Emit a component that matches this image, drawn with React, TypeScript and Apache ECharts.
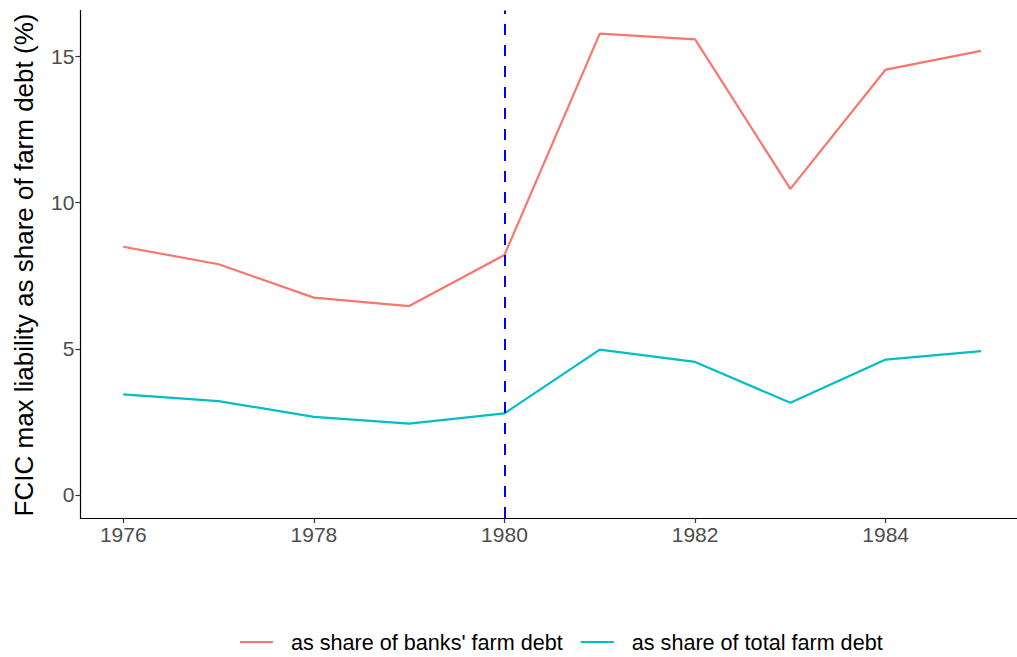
import React, { useEffect, useRef } from "react";
import * as echarts from "echarts";

const years = [1976, 1977, 1978, 1979, 1980, 1981, 1982, 1983, 1984, 1985];
const banksShare = [8.49, 7.89, 6.75, 6.46, 8.21, 15.78, 15.58, 10.47, 14.55, 15.19];
const totalShare = [3.44, 3.21, 2.67, 2.44, 2.79, 4.97, 4.55, 3.15, 4.63, 4.92];
const xTicks = [1976, 1978, 1980, 1982, 1984];
const yTicks = [0, 5, 10, 15];
const seriesNames = ["as share of banks' farm debt", "as share of total farm debt"];
const markYear = 1980;
const yTitle = "FCIC max liability as share of farm debt (%)";

export default function App() {
  const ref = useRef<HTMLDivElement>(null);
  useEffect(() => {
    if (!ref.current) return;
    const chart = echarts.init(ref.current, undefined, { renderer: "svg" });
    const font = "Liberation Sans, Arial, Helvetica, sans-serif";
    const toPairs = (vals: number[]) => years.map((y, i) => [y, vals[i]]);
    chart.setOption({
      animation: false,
      backgroundColor: "#ffffff",
      textStyle: { fontFamily: font },
      grid: { left: 80.4, top: 10.5, width: 936.6, height: 507.5, containLabel: false },
      xAxis: {
        type: "value",
        min: 1975.55,
        max: 1985.378,
        axisLine: { show: true, onZero: false, lineStyle: { color: "#000000", width: 1.2 } },
        axisTick: { show: true, customValues: xTicks, length: 5, lineStyle: { color: "#333333", width: 1.2 } },
        axisLabel: {
          customValues: xTicks,
          color: "#4d4d4d",
          fontSize: 21,
          margin: 6,
          fontFamily: font,
          formatter: (v: number) => String(v),
        },
        splitLine: { show: false },
      },
      yAxis: {
        type: "value",
        min: -0.789,
        max: 16.57,
        axisLine: { show: true, onZero: false, lineStyle: { color: "#000000", width: 1.2 } },
        axisTick: { show: true, customValues: yTicks, length: 5, lineStyle: { color: "#333333", width: 1.2 } },
        axisLabel: { customValues: yTicks, color: "#4d4d4d", fontSize: 21, margin: 6, fontFamily: font },
        splitLine: { show: false },
      },
      legend: {
        left: 240,
        top: 630,
        padding: 0,
        itemWidth: 33,
        itemHeight: 14,
        itemGap: 18,
        data: seriesNames.map((n) => ({ name: n, icon: "path://M0,6 L33,6 L33,8 L0,8 Z" })),
        textStyle: { fontSize: 21.6, color: "#000000", fontFamily: font, padding: [0, 0, 0, 13], lineHeight: 24 },
      },
      graphic: [
        {
          type: "text",
          x: 24,
          y: 265,
          rotation: Math.PI / 2,
          style: {
            text: yTitle,
            font: `26px ${font}`,
            fill: "#000000",
            align: "center",
            verticalAlign: "middle",
          },
        },
      ],
      series: [
        {
          name: seriesNames[0],
          type: "line",
          data: toPairs(banksShare),
          showSymbol: false,
          symbol: "none",
          lineStyle: { color: "#F8766D", width: 2.2 },
          itemStyle: { color: "#F8766D" },
          markLine: {
            silent: true,
            symbol: "none",
            label: { show: false },
            lineStyle: { color: "#0000FF", width: 2, type: [11, 10] },
            data: [{ xAxis: markYear }],
          },
        },
        {
          name: seriesNames[1],
          type: "line",
          data: toPairs(totalShare),
          showSymbol: false,
          symbol: "none",
          lineStyle: { color: "#00BFC4", width: 2.2 },
          itemStyle: { color: "#00BFC4" },
        },
      ],
    });
    return () => chart.dispose();
  }, []);
  return (
    <div
      ref={ref}
      style={{ position: "fixed", left: 0, top: 0, width: 1017, height: 657, background: "#fff" }}
    />
  );
}
